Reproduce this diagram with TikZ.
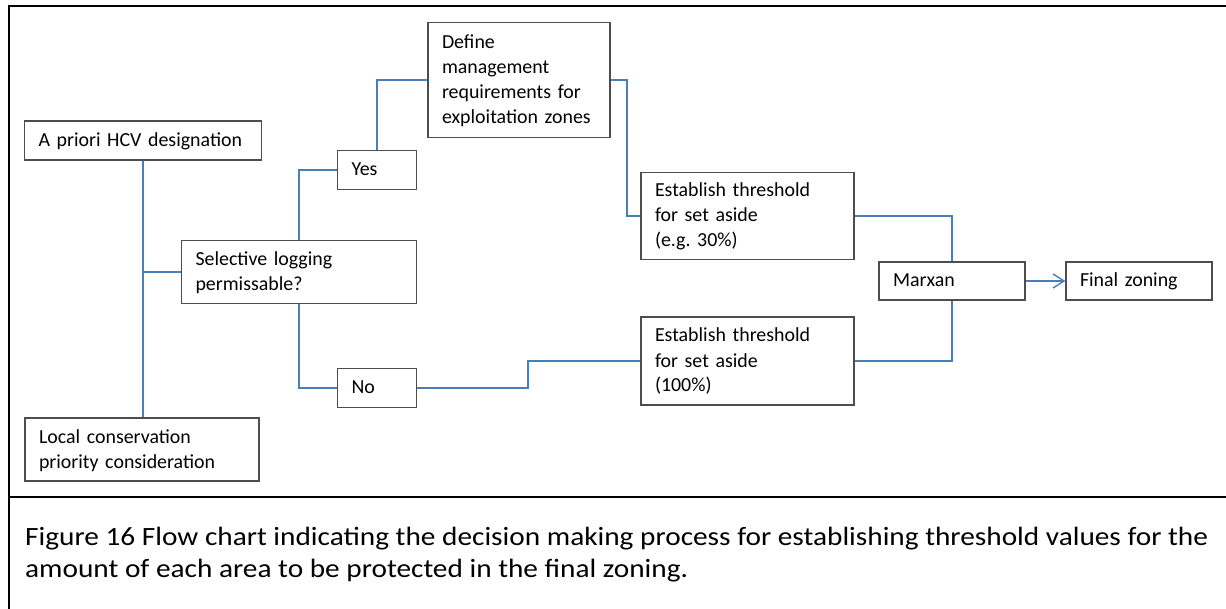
\documentclass[tikz,border=0pt]{standalone}
\usepackage{fontspec}
\setmainfont{Carlito}
\newfontfamily\capfont[FakeStretch=1.11]{Carlito}
\usetikzlibrary{arrows.meta,calc}
\definecolor{conn}{HTML}{4A7EBB}
\definecolor{boxline}{HTML}{4D4D4D}
\newcommand{\topstrut}{\rule{0pt}{18.5pt}}
\newcommand{\botstrut}{\rule[-6.5pt]{0pt}{6.5pt}}
\frenchspacing
\tikzset{
  box/.style={draw=boxline, line width=1.3pt, fill=white, inner xsep=14pt, inner ysep=0pt,
    align=left, font=\fontsize{19.9}{25}\selectfont\frenchspacing, anchor=center,
    execute at begin node=\topstrut, execute at end node=\botstrut},
  link/.style={draw=conn, line width=1.8pt},
  frameline/.style={draw=black, line width=2.6pt},
}
\begin{document}
\begin{tikzpicture}[x=1pt,y=-1pt]
\useasboundingbox (0,0) rectangle (1226,609);
% frame
\draw[frameline] (8,6) -- (1226,6);
\draw[frameline] (9,5) -- (9,497);
\draw[draw=black, line width=2pt] (9,497) -- (9,609);
\draw[frameline] (9,497) -- (1226,497);
% boxes
\node[box, minimum width=237, minimum height=39, text width=209] (apriori) at (143,140.5) {A priori HCV designation};
\node[box, minimum width=234, minimum height=63, text width=206] (local) at (142,449.5) {Local conservation\\priority consideration};
\node[box, minimum width=235, minimum height=63, text width=207] (selective) at (299,272) {Selective logging\\permissable?};
\node[box, minimum width=79, minimum height=39, text width=51] (yes) at (377,170) {Yes};
\node[box, minimum width=79, minimum height=39, text width=51] (no) at (377,388) {No};
\node[box, minimum width=182, minimum height=115, text width=154] (define) at (519,80) {Define\\management\\requirements for\\exploitation zones};
\node[box, minimum width=213, minimum height=87, text width=185] (est30) at (747.5,216) {Establish threshold\\for set aside\\(e.g. 30\%)};
\node[box, minimum width=213, minimum height=88, text width=185] (est100) at (747.5,361) {Establish threshold\\for set aside\\(100\%)};
\node[box, minimum width=146, minimum height=38, text width=118] (marxan) at (952,281) {Marxan};
\node[box, minimum width=146, minimum height=38, text width=118] (final) at (1139,281) {Final zoning};
% connectors
\draw[link] (apriori.south) -- (apriori.south |- local.north);
\draw[link] (selective.west) -- (apriori.south |- selective.west);
\draw[link] (selective.north) |- (yes.west);
\draw[link] (selective.south) |- (no.west);
\draw[link] (yes.north) |- (define.west);
\draw[link] (define.east) -- ++(16,0) |- (est30.west);
\draw[link] (no.east) -- ++(111,0) |- (est100.west);
\draw[link] (est30.east) -| (marxan.north);
\draw[link] (est100.east) -| (marxan.south);
\draw[link, -{Straight Barb[length=11pt,width=14pt,line width=1.4pt]}] (marxan.east) -- (final.west);
% caption
\node[anchor=base west, inner sep=0pt, align=left, font=\capfont\fontsize{26.4}{32}\selectfont] (caption) at (25,577)
  {Figure 16 Flow chart indicating the decision making process for establishing threshold values for the\\amount of each area to be protected in the final zoning.};
\end{tikzpicture}
\end{document}
